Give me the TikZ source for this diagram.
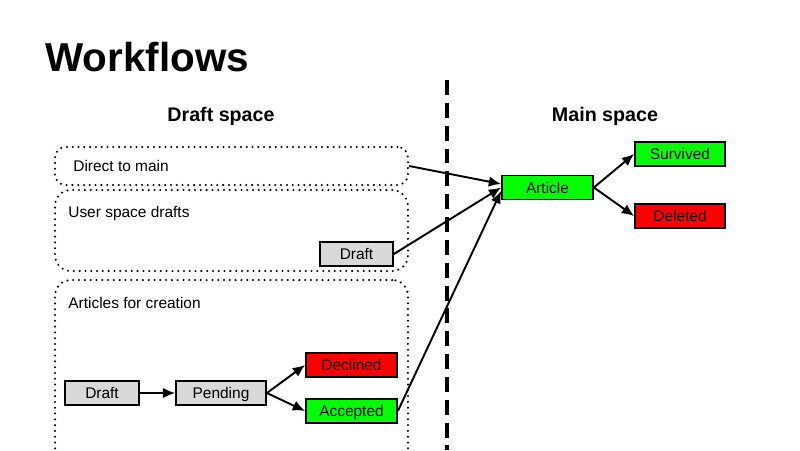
\documentclass[tikz,border=0pt]{standalone}
\usepackage{fontspec}
\setmainfont{Liberation Sans}
\usetikzlibrary{arrows.meta}

\definecolor{boxgray}{RGB}{217,217,217}
\definecolor{boxgreen}{RGB}{0,255,0}
\definecolor{boxred}{RGB}{255,0,0}

\tikzset{
  state/.style={draw, line width=1pt, inner sep=0pt, font=\fontsize{8.8}{10}\selectfont,
    text height=7pt, text depth=0.7pt, minimum height=0.48cm},
  group/.style={draw, line width=1.3pt, dash pattern=on 0pt off 3.3pt, line cap=round,
    rounded corners=9pt, inner sep=0pt},
  grouplabel/.style={anchor=west, inner sep=0pt, font=\fontsize{8.8}{10}\selectfont},
  flow/.style={line width=1.1pt, -{Latex[length=7pt,width=6pt]}},
}

\begin{document}
\begin{tikzpicture}[x=0.02cm,y=-0.02cm]
                \useasboundingbox (0,0) rectangle (800,450);
                \clip (0,0) rectangle (800,450);

                % headings
                \node[anchor=base west, inner sep=0pt, font=\bfseries\fontsize{23}{26}\selectfont] (title) at (45,71) {Workflows};
                \node[font=\bfseries\fontsize{11.2}{13}\selectfont] (draftspace) at (221,116) {Draft space};
                \node[font=\bfseries\fontsize{11.2}{13}\selectfont] (mainspace) at (605,116) {Main space};

                % divider between the two spaces
                \draw[line width=2.2pt, dash pattern=on 8.5pt off 4.5pt] (447,80) -- (447,450);

                % dotted groups in draft space
                \node[group, minimum width=7.06cm, minimum height=0.76cm, rounded corners=6pt] (direct) at (231.5,166) {};
                \node[group, minimum width=7.06cm, minimum height=1.62cm] (userspace) at (231.5,230.5) {};
                \node[group, minimum width=7.06cm, minimum height=3.8cm] (afc) at (231.5,375) {};
                \node[grouplabel] (directlbl) at (73,166) {Direct to main};
                \node[grouplabel] (userlbl) at (68,213) {User space drafts};
                \node[grouplabel] (afclbl) at (68,303) {Articles for creation};

                % states
                \node[state, fill=boxgray, minimum width=1.46cm] (userdraft) at (356.5,254) {Draft};
                \node[state, fill=boxgray, minimum width=1.48cm] (afcdraft) at (102,393) {Draft};
                \node[state, fill=boxgray, minimum width=1.8cm] (pending) at (221,393) {Pending};
                \node[state, fill=boxred, minimum width=1.82cm] (declined) at (351.5,365) {Declined};
                \node[state, fill=boxgreen, minimum width=1.82cm] (accepted) at (351.5,411) {Accepted};
                \node[state, fill=boxgreen, minimum width=1.82cm] (article) at (547.5,187.5) {Article};
                \node[state, fill=boxgreen, minimum width=1.8cm] (survived) at (680,154) {Survived};
                \node[state, fill=boxred, minimum width=1.8cm] (deleted) at (680,216) {Deleted};

                % flows
                \draw[flow] (afcdraft) -- (pending);
                \draw[flow] (pending.east) -- (declined.west);
                \draw[flow] (pending.east) -- (accepted.west);
                \draw[flow] (direct.east) -- ([yshift=2pt]article.west);
                \draw[flow] (userdraft.east) -- (article.west);
                \draw[flow] (accepted.east) -- ([yshift=-2pt]article.west);
                \draw[flow] (article.east) -- (survived.west);
                \draw[flow] (article.east) -- (deleted.west);
            \end{tikzpicture}
\end{document}
